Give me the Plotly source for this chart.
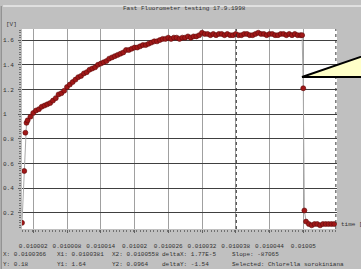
import plotly.graph_objects as go

# ---------------- data ----------------
# sample times, in microseconds after 0.01 s
time_us = [0.0, 0.4, 0.6, 0.8, 1.0, 1.5, 2.0, 2.5, 3.0, 3.5, 4.0, 4.5, 5.0, 5.5, 6.0, 6.5,
           7.0, 7.5, 8.0, 8.5, 9.0, 9.5, 10.0, 10.5, 11.0, 11.5, 12.0, 12.5, 13.0, 13.5,
           14.0, 14.5, 15.0, 15.5, 16.0, 16.5, 17.0, 17.5, 18.0, 18.5, 19.0, 19.5, 20.0,
           20.5, 21.0, 21.5, 22.0, 22.5, 23.0, 23.5, 24.0, 24.5, 25.0, 25.5, 26.0, 26.5,
           27.0, 27.5, 28.0, 28.5, 29.0, 29.5, 30.0, 30.5, 31.0, 31.5, 32.0, 32.5, 33.0,
           33.5, 34.0, 34.5, 35.0, 35.5, 36.0, 36.5, 37.0, 37.5, 38.0, 38.5, 39.0, 39.5,
           40.0, 40.5, 41.0, 41.5, 42.0, 42.5, 43.0, 43.5, 44.0, 44.5, 45.0, 45.5, 46.0,
           46.5, 47.0, 47.5, 48.0, 48.5, 49.0, 49.5, 49.8, 50.0, 50.2, 50.5, 51.0, 51.5,
           52.0, 52.5, 53.0, 53.5, 54.0, 54.5, 55.0, 55.5]
signal_v = [0.12, 0.54, 0.85, 0.93, 0.95, 0.98, 1.01, 1.03, 1.04, 1.06, 1.07, 1.08, 1.09, 1.11,
            1.13, 1.16, 1.17, 1.19, 1.22, 1.24, 1.26, 1.28, 1.30, 1.31, 1.33, 1.34, 1.36, 1.37,
            1.38, 1.40, 1.41, 1.42, 1.43, 1.45, 1.46, 1.47, 1.48, 1.49, 1.50, 1.52, 1.52, 1.53,
            1.54, 1.54, 1.55, 1.56, 1.56, 1.57, 1.58, 1.59, 1.59, 1.60, 1.61, 1.61, 1.62, 1.61,
            1.62, 1.62, 1.61, 1.62, 1.62, 1.63, 1.62, 1.63, 1.63, 1.64, 1.66, 1.65, 1.65, 1.64,
            1.65, 1.64, 1.65, 1.65, 1.64, 1.65, 1.64, 1.64, 1.65, 1.64, 1.64, 1.65, 1.65, 1.64,
            1.64, 1.65, 1.66, 1.65, 1.65, 1.64, 1.65, 1.65, 1.64, 1.64, 1.65, 1.65, 1.64, 1.65,
            1.64, 1.65, 1.64, 1.64, 1.64, 1.21, 0.22, 0.13, 0.11, 0.10, 0.11, 0.11, 0.10, 0.11,
            0.11, 0.11, 0.11, 0.11]

x_tick_vals = [0.010002, 0.010008, 0.010014, 0.01002, 0.010026, 0.010032, 0.010038, 0.010044, 0.01005]
x_tick_text = ["0.010002", "0.010008", "0.010014", "0.01002", "0.010026", "0.010032",
               "0.010038", "0.010044", "0.01005"]
y_tick_vals = [0.2, 0.4, 0.6, 0.8, 1.0, 1.2, 1.4, 1.6]
y_tick_text = ["0.2", "0.4", "0.6", "0.8", "1\u00a0\u00a0", "1.2", "1.4", "1.6"]

cursor_x = [0.0100381, 0.0100558]

title_text = "Fast Fluorometer testing 17.9.1998"
status_row1 = ["X: 0.0100366", "X1: 0.0100381", "X2: 0.0100558", "deltaX: 1.77E-5", "Slope: -87065"]
status_row2 = ["Y: 0.18", "Y1: 1.64", "Y2: 0.0964", "deltaY: -1.54", "Selected: Chlorella sorokiniana"]

# ---------------- figure ----------------
FONT = "Liberation Mono"
TXT = "#303030"
x_s = [0.01 + t * 1e-6 for t in time_us]

fig = go.Figure()
fig.add_trace(go.Scatter(
    x=x_s, y=signal_v, mode="lines+markers",
    line=dict(color="#a8a8a8", width=1),
    marker=dict(size=5, color="#a01818", line=dict(color="#600a0a", width=0.6)),
    showlegend=False, hoverinfo="skip"))

# cursor triangles above plot
fig.add_trace(go.Scatter(
    x=cursor_x, y=[1.722, 1.722], mode="markers", cliponaxis=False,
    marker=dict(symbol="triangle-down", size=6, color="#202020"),
    showlegend=False, hoverinfo="skip"))

for cx in cursor_x:
    fig.add_shape(type="line", xref="x", yref="paper", x0=cx, x1=cx, y0=0, y1=1,
                  line=dict(color="#303030", width=1, dash="dot"))

# callout triangle
fig.add_shape(type="path", xref="paper", yref="paper",
              path="M 0.889,0.76 L 1.12,0.885 L 1.12,0.76 Z",
              fillcolor="#ffffc8", line=dict(color="#000000", width=2))

# window frame lines
fig.add_shape(type="line", xref="paper", yref="paper", x0=-0.06, x1=1.08, y0=1.115, y1=1.115,
              line=dict(color="#ffffff", width=1))
fig.add_shape(type="line", xref="paper", yref="paper", x0=-0.066, x1=-0.066, y0=1.115, y1=-0.2,
              line=dict(color="#808080", width=1))

ann = []
ann.append(dict(text=title_text, x=0.517, y=1.10, xref="paper", yref="paper",
                showarrow=False, xanchor="center", yanchor="middle",
                font=dict(family=FONT, size=6, color=TXT)))
ann.append(dict(text="[V]", x=-0.057, y=1.025, xref="paper", yref="paper",
                showarrow=False, xanchor="left", yanchor="middle",
                font=dict(family=FONT, size=6, color=TXT)))
ann.append(dict(text="time [s]", x=1.005, y=0.025, xref="paper", yref="paper",
                showarrow=False, xanchor="left", yanchor="middle",
                font=dict(family=FONT, size=6, color=TXT)))
col_x = [-0.066, 0.105, 0.279, 0.438, 0.660]
for i, (a, b) in enumerate(zip(status_row1, status_row2)):
    ann.append(dict(text=a, x=col_x[i], y=-0.13, xref="paper", yref="paper",
                    showarrow=False, xanchor="left", yanchor="middle",
                    font=dict(family=FONT, size=6, color=TXT)))
    ann.append(dict(text=b, x=col_x[i], y=-0.175, xref="paper", yref="paper",
                    showarrow=False, xanchor="left", yanchor="middle",
                    font=dict(family=FONT, size=6, color=TXT)))

fig.update_layout(
    width=361, height=269,
    margin=dict(l=22, r=24, t=29, b=40, autoexpand=False),
    paper_bgcolor="#c0c0c0", plot_bgcolor="#ffffff",
    annotations=ann,
    xaxis=dict(range=[0.01, 0.010056], tickmode="array", tickvals=x_tick_vals,
               ticktext=x_tick_text, showgrid=True, gridcolor="#a0a0a0", gridwidth=1,
               zeroline=False, ticks="outside", ticklen=3, tickcolor="#606060",
               ticklabelstandoff=8, automargin=False,
               minor=dict(tickmode="linear", tick0=0.01, dtick=6e-7, ticks="outside",
                          ticklen=2, tickcolor="#707070", showgrid=False),
               tickfont=dict(family=FONT, size=6, color=TXT), showline=False),
    yaxis=dict(range=[0.07, 1.69], tickmode="array", tickvals=y_tick_vals,
               ticktext=y_tick_text, showgrid=True, gridcolor="#404040", gridwidth=1,
               zeroline=False, ticks="outside", ticklen=3, tickcolor="#606060",
               ticklabelstandoff=3, automargin=False,
               minor=dict(tickmode="linear", tick0=0, dtick=0.02, ticks="outside",
                          ticklen=2, tickcolor="#707070", showgrid=False),
               tickfont=dict(family=FONT, size=6, color=TXT), showline=False),
)

fig.write_html("out.html", config={"displayModeBar": False},
               post_script="document.body.style.margin='0';document.body.style.overflow='hidden';")
